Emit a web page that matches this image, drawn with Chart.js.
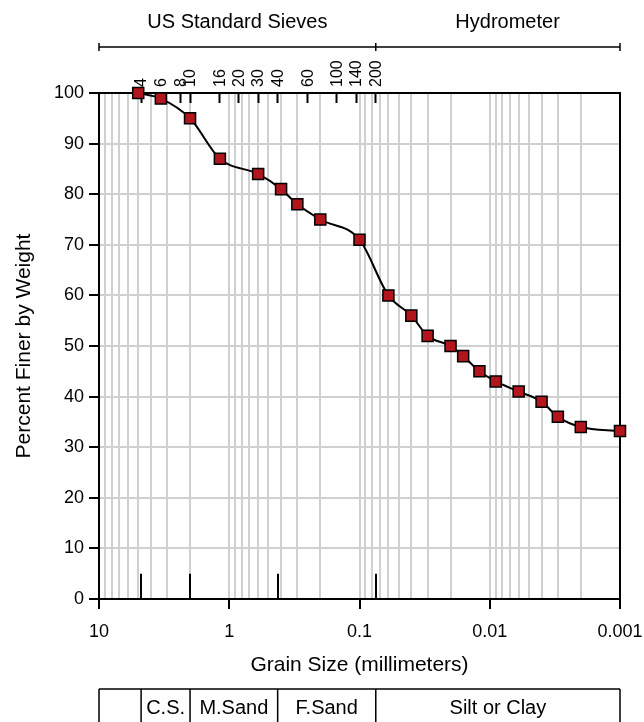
<!DOCTYPE html>
<html>
<head>
<meta charset="utf-8">
<script src="https://cdn.jsdelivr.net/npm/chart.js@4.4.0/dist/chart.umd.min.js"></script>
<style>
  html, body { margin: 0; padding: 0; background: #fff; }
  #wrap { width: 644px; height: 722px; }
</style>
</head>
<body>
<div id="wrap"><canvas id="granulometria" width="644" height="722"></canvas></div>
<script>
// datos
var grainSize = [5.0, 3.35, 2.0, 1.18, 0.6, 0.4, 0.3, 0.2, 0.1, 0.06, 0.04, 0.03, 0.02, 0.016, 0.012, 0.009, 0.006, 0.004, 0.003, 0.002, 0.001];
var percentFiner = [100, 98.9, 95, 87, 84, 81, 78, 75, 71, 60, 56, 52, 50, 48, 45, 43, 41, 39, 36, 34, 33.2];

var decades = [10, 1, 0.1, 0.01, 0.001];
var decadeLabels = ['10', '1', '0.1', '0.01', '0.001'];

var sieveSizes = [4.75, 3.35, 2.36, 2.0, 1.18, 0.85, 0.6, 0.425, 0.25, 0.15, 0.106, 0.075];
var sieveNumbers = ['4', '6', '8', '10', '16', '20', '30', '40', '60', '100', '140', '200'];

var soilNames = ['', 'C.S.', 'M.Sand', 'F.Sand', 'Silt or Clay'];
var soilLimits = [10, 4.75, 2.0, 0.425, 0.075, 0.001];

var methodNames = ['US Standard Sieves', 'Hydrometer'];
var methodLimits = [10, 0.075, 0.001];

// lineas de la grilla logaritmica (1..9 por decada)
var gridValues = [];
[0.001, 0.01, 0.1, 1].forEach(function (d) {
    for (var m = 1; m < 10; m++) gridValues.push(+(m * d).toPrecision(2));
});
gridValues.push(10);

Chart.defaults.font.family = "'Liberation Sans', Arial, sans-serif";
Chart.defaults.color = '#000';

var marco = {
    id: 'marco',
    beforeDatasetsDraw: function (chart) {
        var ctx = chart.ctx, a = chart.chartArea;
        var x = chart.scales.x, y = chart.scales.y;
        ctx.save();
        ctx.strokeStyle = '#000';
        ctx.lineWidth = 2;
        ctx.strokeRect(a.left, a.top, a.right - a.left, a.bottom - a.top);
        // marcas cortas de los limites de suelo
        for (var i = 1; i < soilLimits.length - 1; i++) {
            var px = Math.round(x.getPixelForValue(soilLimits[i]));
            ctx.beginPath();
            ctx.moveTo(px, y.getPixelForValue(0));
            ctx.lineTo(px, y.getPixelForValue(5));
            ctx.stroke();
        }
        ctx.restore();
    },
    afterDraw: function (chart) {
        var ctx = chart.ctx, a = chart.chartArea;
        var x = chart.scales.x;
        ctx.save();
        ctx.strokeStyle = '#000';
        ctx.fillStyle = '#000';
        ctx.lineWidth = 1.5;
        ctx.textAlign = 'center';
        ctx.textBaseline = 'middle';
        ctx.font = "20px 'Liberation Sans', Arial, sans-serif";

        // corchete superior
        var ly = 47;
        var p0 = x.getPixelForValue(methodLimits[0]);
        var p2 = x.getPixelForValue(methodLimits[2]);
        ctx.beginPath();
        ctx.moveTo(p0, ly); ctx.lineTo(p2, ly);
        methodLimits.forEach(function (v) {
            var px = x.getPixelForValue(v);
            ctx.moveTo(px, ly - 4); ctx.lineTo(px, ly + 4);
        });
        ctx.stroke();
        var c1 = (p0 + x.getPixelForValue(methodLimits[1])) / 2;
        ctx.fillText(methodNames[0], c1, 22);
        ctx.fillText(methodNames[1], x.getPixelForValue(0.0073), 22);

        // tabla de tipos de suelo
        var top = a.bottom + 90;
        var bot = chart.height + 5;
        ctx.beginPath();
        for (var i = 0; i < soilLimits.length; i++) {
            var px = x.getPixelForValue(soilLimits[i]);
            ctx.moveTo(px, top); ctx.lineTo(px, bot);
        }
        ctx.moveTo(x.getPixelForValue(soilLimits[0]), top);
        ctx.lineTo(x.getPixelForValue(soilLimits[soilLimits.length - 1]), top);
        ctx.stroke();
        for (var j = 0; j < soilNames.length; j++) {
            var cx = (x.getPixelForValue(soilLimits[j]) + x.getPixelForValue(soilLimits[j + 1])) / 2;
            ctx.fillText(soilNames[j], cx, top + 19);
        }
        ctx.restore();
    }
};

var ctx = document.getElementById('granulometria');
var grafico = new Chart(ctx, {
    type: 'line',
    data: {
        datasets: [{
            data: grainSize.map(function (g, i) { return {x: g, y: percentFiner[i]}; }),
            xAxisID: 'x',
            yAxisID: 'y',
            borderColor: '#000',
            borderWidth: 2,
            cubicInterpolationMode: 'monotone',
            pointStyle: 'rect',
            pointRadius: 7.8,
            pointBackgroundColor: '#b3151c',
            pointBorderColor: '#000',
            pointBorderWidth: 1.5,
            clip: false
        }]
    },
    options: {
        responsive: false,
        animation: false,
        layout: { padding: { right: 24 } },
        plugins: { legend: { display: false }, tooltip: { enabled: false } },
        scales: {
            x: {
                type: 'logarithmic',
                position: 'bottom',
                reverse: true,
                min: 0.001,
                max: 10,
                afterBuildTicks: function (s) {
                    s.ticks = gridValues.map(function (v) { return {value: v}; });
                },
                afterFit: function (s) { s.height = 123; },
                ticks: {
                    autoSkip: false,
                    minRotation: 0,
                    maxRotation: 0,
                    padding: 12,
                    font: { size: 18 },
                    callback: function (v) {
                        var i = decades.indexOf(v);
                        return i >= 0 ? decadeLabels[i] : '';
                    }
                },
                grid: {
                    color: '#d0d0d0',
                    lineWidth: 2,
                    tickLength: 10,
                    tickWidth: 2,
                    tickColor: function (c) {
                        return decades.indexOf(c.tick.value) >= 0 ? '#000' : 'rgba(0,0,0,0)';
                    }
                },
                border: { color: '#000', width: 2 },
                title: {
                    display: true,
                    text: 'Grain Size (millimeters)',
                    font: { size: 21 },
                    padding: { top: 44, bottom: 44 }
                }
            },
            x2: {
                type: 'logarithmic',
                position: 'top',
                reverse: true,
                min: 0.001,
                max: 10,
                afterBuildTicks: function (s) {
                    s.ticks = sieveSizes.map(function (v) { return {value: v}; });
                },
                afterFit: function (s) { s.height = 93; },
                ticks: {
                    autoSkip: false,
                    minRotation: 90,
                    maxRotation: 90,
                    padding: 16,
                    labelOffset: 20,
                    font: { size: 16 },
                    callback: function (v, i) { return sieveNumbers[i]; }
                },
                grid: {
                    drawOnChartArea: false,
                    tickLength: -10,
                    tickWidth: 2,
                    tickColor: '#000'
                },
                border: { color: '#000', width: 2 }
            },
            y: {
                min: 0,
                max: 100,
                afterFit: function (s) { s.width = 99; },
                ticks: { stepSize: 10, font: { size: 18 }, padding: 5 },
                grid: {
                    color: function (c) {
                        return (c.tick.value === 0 || c.tick.value === 100) ? 'rgba(0,0,0,0)' : '#d0d0d0';
                    },
                    lineWidth: 2,
                    tickLength: 10,
                    tickWidth: 2,
                    tickColor: '#000'
                },
                border: { color: '#000', width: 2 },
                title: {
                    display: true,
                    text: 'Percent Finer by Weight',
                    font: { size: 21 },
                    padding: { top: 12 }
                }
            }
        }
    },
    plugins: [marco]
});
</script>
</body>
</html>
